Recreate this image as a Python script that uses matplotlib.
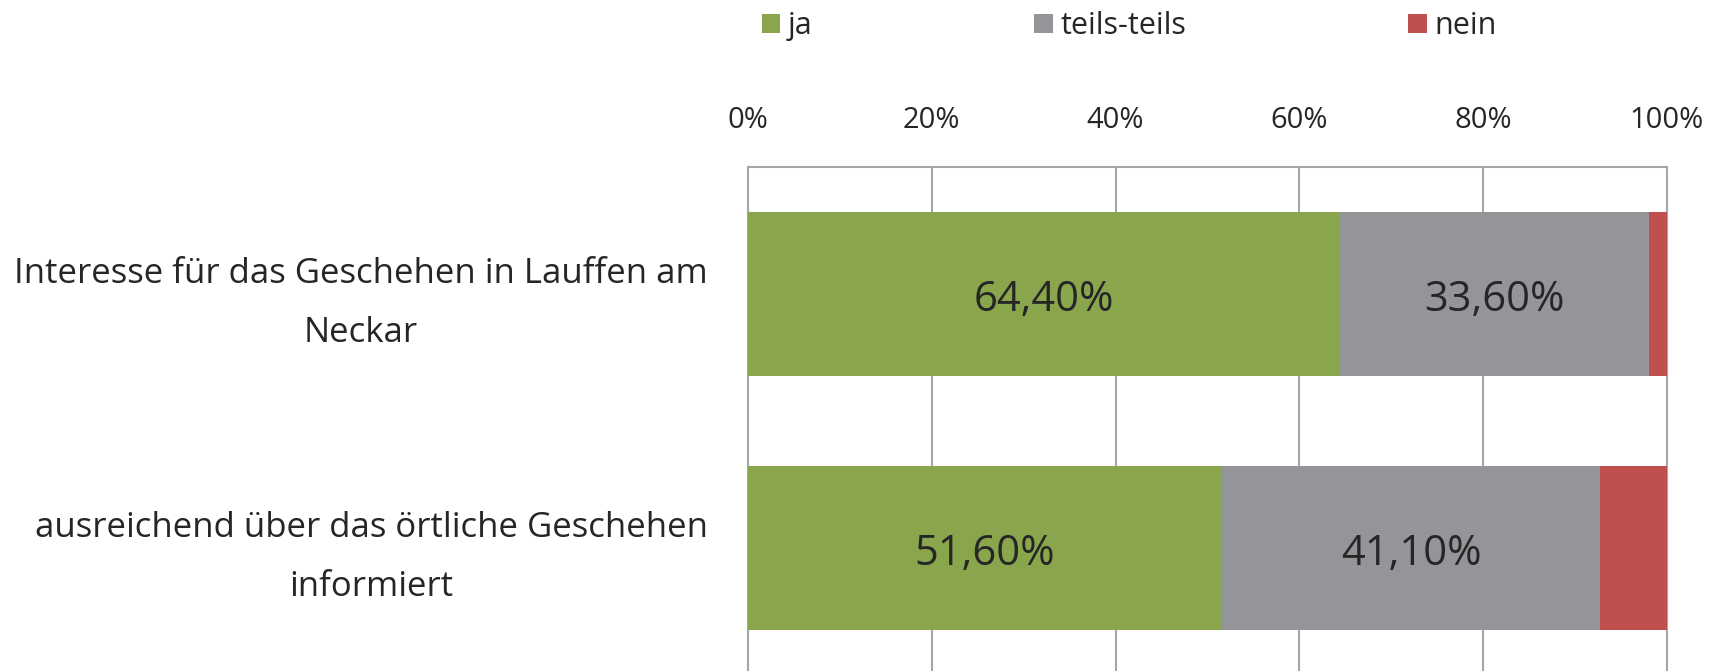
import matplotlib.pyplot as plt
from matplotlib.patches import Patch
from matplotlib.ticker import FuncFormatter
from matplotlib.transforms import ScaledTranslation

plt.rcParams['font.family'] = ['Open Sans', 'DejaVu Sans']

categories = ["Interesse für das Geschehen in Lauffen am\nNeckar",
              "ausreichend über das örtliche Geschehen\ninformiert"]
series = ["ja", "teils-teils", "nein"]
ja = [64.4, 51.6]
teils = [33.6, 41.1]
nein = [2.0, 7.3]
colors = ["#8aa64c", "#939598", "#c0504d"]
text_col = "#262626"

fig = plt.figure(figsize=(17.24, 6.71), dpi=100)
# plot area runs past the lower edge, like the cropped original
ax = fig.add_axes([0.4339, -0.006, 0.5330, 0.757])

ypos = list(range(len(categories)))
left = [0.0] * len(categories)
for vals, col in zip([ja, teils, nein], colors):
    ax.barh(ypos, vals, left=left, height=0.646, color=col, zorder=3)
    left = [l + v for l, v in zip(left, vals)]

# value labels inside the green and grey segments
for i in ypos:
    ax.text(ja[i] / 2, i + 0.025, f"{ja[i]:.2f}%".replace(".", ","), ha="center",
            va="center", fontsize=30, color=text_col, zorder=4)
    ax.text(ja[i] + teils[i] / 2, i + 0.025, f"{teils[i]:.2f}%".replace(".", ","),
            ha="center", va="center", fontsize=30, color=text_col, zorder=4)

ax.set_xlim(0, 100)
ax.set_ylim(1.5, -0.5)
ax.xaxis.tick_top()
ax.set_xticks([0, 20, 40, 60, 80, 100])
ax.xaxis.set_major_formatter(FuncFormatter(lambda v, p: f"{v:.0f}%"))
ax.tick_params(axis="x", length=0, pad=23, labelsize=21, labelcolor=text_col)

ax.set_yticks(ypos)
ax.set_yticklabels(categories, multialignment="center", fontsize=25, color=text_col,
                   linespacing=1.95)
ax.tick_params(axis="y", length=0, pad=29)
# nudge the two-line labels up a little
for lbl in ax.get_yticklabels():
    lbl.set_transform(lbl.get_transform() + ScaledTranslation(0, 0.07, fig.dpi_scale_trans))

ax.grid(axis="x", color="#a6a6a6", linewidth=1.5, zorder=0)
for s in ax.spines.values():
    s.set_color("#a6a6a6")
    s.set_linewidth(1.5)

handles = [Patch(facecolor=c, edgecolor="none") for c in colors]
fig.legend(handles, series, loc="center", bbox_to_anchor=(0.655, 0.961), ncol=3,
           frameon=False, fontsize=22, handlelength=0.6, handleheight=0.6,
           handletextpad=0.25, columnspacing=7.27, labelcolor=text_col)

fig.savefig("out.png", dpi=100)
